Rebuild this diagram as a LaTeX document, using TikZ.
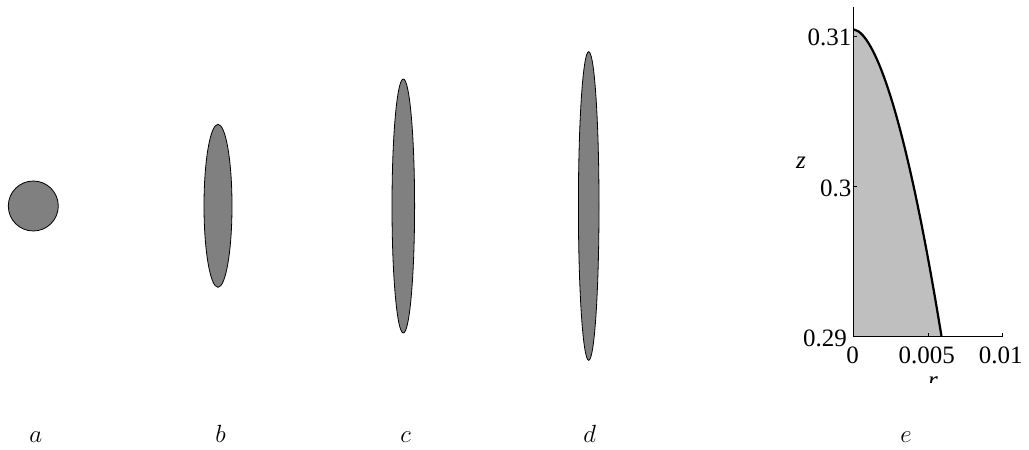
\documentclass[tikz,border=0pt]{standalone}
\usepackage{fontspec}
\setmainfont{Liberation Serif}
\usetikzlibrary{shapes.geometric}
\begin{document}
\begin{tikzpicture}[x=1pt,y=-1pt,
  blob/.style={ellipse,draw=black,line width=0.8pt,fill=black!50,inner sep=0pt},
  lab/.style={anchor=base,inner sep=0pt,font=\fontsize{30}{34}\selectfont},
  tick/.style={inner sep=0pt,font=\fontsize{25}{30}\selectfont},
  axis/.style={line width=1pt,black}]
\useasboundingbox (0,0) rectangle (1029,450);
% shapes
\node[blob,minimum width=50pt,minimum height=50pt] (A) at (33.3,206) {};
\node[blob,minimum width=28pt,minimum height=163pt] (B) at (218,205.8) {};
\node[blob,minimum width=22.6pt,minimum height=254pt] (C) at (403.3,206) {};
\node[blob,minimum width=20.6pt,minimum height=308.6pt] (D) at (588.7,206) {};
% labels
\node[lab] (la) at (35.7,442) {$a$};
\node[lab] (lb) at (220.6,442) {$b$};
\node[lab] (lc) at (405.5,442) {$c$};
\node[lab] (ld) at (589.6,442) {$d$};
\node[lab] (le) at (906,442) {$e$};
% plot e
\coordinate (O) at (853.3,336.5);
\coordinate (Ytop) at (853.3,6.7);
\coordinate (Xend) at (1002.7,336.5);
\coordinate (Ctop) at (853.3,29.3);
\fill[black!25] (O) -- (Ctop) -- plot[domain=0.01:307.2,samples=150] ({853.3+3.43*pow(\x,0.567)},{29.3+\x}) -- cycle;
\draw[line width=2.2pt,line join=round] (Ctop) -- plot[domain=0.01:307.2,samples=150] ({853.3+3.43*pow(\x,0.567)},{29.3+\x});
\draw[axis] (Ytop) -- (O) -- (Xend);
\draw[axis] (853.3,36.5) -- ++(3.5,0);
\draw[axis] (853.3,186.5) -- ++(3.5,0);
\draw[axis] (928.3,336.5) -- ++(0,-3.5);
\draw[axis] (1002.7,336.5) -- ++(0,-3.5);
\node[tick,anchor=east] (t31) at (851.5,37.5) {0.31};
\node[tick,anchor=east] (t30) at (851.5,188) {0.3};
\node[tick,anchor=east] (t29) at (847,338.5) {0.29};
\node[tick,anchor=north] (x0) at (852.5,347) {0};
\node[tick,anchor=north] (x5) at (926.7,347) {0.005};
\node[tick,anchor=north] (x10) at (1000.8,347) {0.01};
\node[tick,anchor=base] (zl) at (801,168.5) {\textit{z}};
\begin{scope}
\clip (900,360) rectangle (960,382);
\node[tick,anchor=base] (rl) at (933,388) {\textit{r}};
\end{scope}
\end{tikzpicture}
\end{document}
